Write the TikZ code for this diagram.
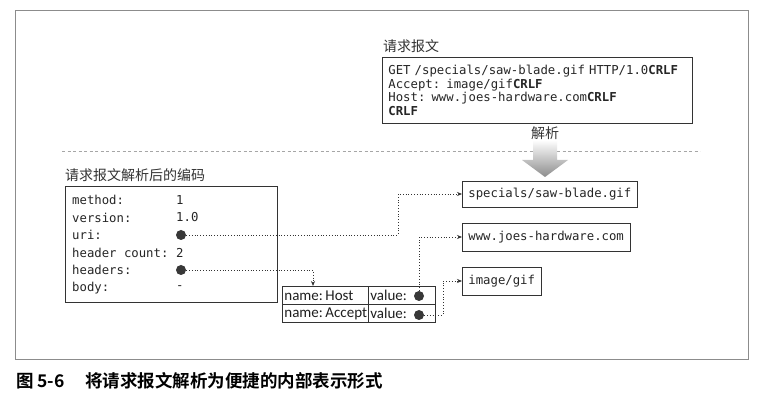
\documentclass[tikz,border=0pt]{standalone}
\usepackage{fontspec}
\setmainfont{Liberation Sans}
\newfontfamily\monof{DejaVu Sans Mono}
\newfontfamily\cjkf{Noto Sans CJK SC}
\newfontfamily\cjkbf{Noto Sans CJK SC Bold}
\newfontfamily\tabf{Carlito}
\usetikzlibrary{arrows.meta,calc}
\begin{document}
\begin{tikzpicture}[x=1pt,y=-1pt,
  mono/.style={font=\monof\fontsize{12.3}{13.6}\selectfont, text=black!85},
  cjklbl/.style={font=\cjkf\fontsize{14}{16}\selectfont, text=black!80, inner sep=0},
  box/.style={draw=black!80, line width=0.8pt},
  frame/.style={draw=black!45, line width=0.9pt},
  cell/.style={draw=black!80, line width=0.8pt, font=\tabf\fontsize{15}{16}\selectfont, text=black!88, inner xsep=2pt, inner ysep=0pt, align=left},
  keytxt/.style={mono, anchor=west, inner sep=0},
  dot/.style={circle, fill=black!78, inner sep=0, minimum size=10pt},
  conn/.style={draw=black!80, dotted, line width=0.8pt, -{Stealth[length=5pt,width=4pt]}},
  dashline/.style={draw=black!35, dashed, dash pattern=on 3pt off 2.5pt, line width=0.6pt}
]
\useasboundingbox (0,0) rectangle (764,406);
\fill[white] (0,0) rectangle (764,406);

% outer frame
\node[frame, anchor=north west, minimum width=733pt, minimum height=349pt, inner sep=0] (frm) at (15,10) {};

% request message
\node[cjklbl, anchor=west] (reqlbl) at (383,46) {请求报文};
\node[box, mono, anchor=north west, minimum width=310pt, minimum height=66pt, text width=298pt, align=left, inner xsep=6pt] (req) at (382,57)
  {GET /specials/saw-blade.gif HTTP/1.0\textbf{CRLF}\\
   Accept: image/gif\textbf{CRLF}\\
   Host: www.joes-hardware.com\textbf{CRLF}\\
   \textbf{CRLF}};

% parse separator and arrow
\node[cjklbl] (parse) at (545,133) {解析};
\draw[dashline] (62,151) -- (700,151);
\shade[top color=white, bottom color=black!45]
  (533,140) -- (557,140) -- (557,160) -- (568,160) -- (545,177) -- (522,160) -- (533,160) -- cycle;

% encoded structure
\node[cjklbl, anchor=west] (enclbl) at (65,175) {请求报文解析后的编码};
\node[box, anchor=north west, minimum width=212pt, minimum height=116pt, inner sep=0] (enc) at (65,186) {};
\node[keytxt] (k1) at (72,200) {method:};
\node[keytxt] (v1) at (176,200) {1};
\node[keytxt] (k2) at (72,217.5) {version:};
\node[keytxt] (v2) at (176,217.5) {1.0};
\node[keytxt] (k3) at (72,235) {uri:};
\node[dot] (uridot) at (181,235) {};
\node[keytxt] (k4) at (72,252.5) {header count:};
\node[keytxt] (v4) at (176,252.5) {2};
\node[keytxt] (k5) at (72,270) {headers:};
\node[dot] (hdot) at (181,270) {};
\node[keytxt] (k6) at (72,288) {body:};
\node[keytxt] (v6) at (176,288) {-};

% result boxes
\node[box, mono, anchor=west, minimum height=26pt, inner xsep=6pt] (spec) at (462,194) {specials/saw-blade.gif};
\node[box, mono, anchor=west, minimum height=28pt, inner xsep=6pt] (www) at (462,237) {www.joes-hardware.com};
\node[box, mono, anchor=west, minimum height=28pt, inner xsep=6pt] (img) at (462,281) {image/gif};

% header table
\node[cell, anchor=north west, minimum width=86pt, text width=82pt, minimum height=18pt] (n1) at (282,286) {name:\,Host};
\node[cell, anchor=north west, minimum width=67pt, text width=63pt, minimum height=18pt] (vh) at (368,286) {value:};
\node[cell, anchor=north west, minimum width=86pt, text width=82pt, minimum height=18pt] (n2) at (282,304) {name:\,Accept};
\node[cell, anchor=north west, minimum width=67pt, text width=63pt, minimum height=18pt] (va) at (368,304) {value:};
\node[dot] (hostdot) at (419,296) {};
\node[dot] (accdot) at (419,315) {};

% connectors
\coordinate (c1) at (398,235);
\coordinate (c2) at (313,286);
\coordinate (c3) at (443,315);
\draw[conn] (uridot) -- (c1) |- (spec.west);
\draw[conn] (hdot) -| (c2);
\draw[conn] (hostdot) |- (www.west);
\draw[conn] (accdot) -- (c3) |- (img.west);

% caption
\node[anchor=west, inner sep=0, font=\cjkbf\fontsize{17.5}{20}\selectfont] (cap1) at (16,381) {图 5-6};
\node[anchor=west, inner sep=0, font=\cjkbf\fontsize{17.5}{20}\selectfont] (cap2) at (85,381) {将请求报文解析为便捷的内部表示形式};
\end{tikzpicture}
\end{document}
